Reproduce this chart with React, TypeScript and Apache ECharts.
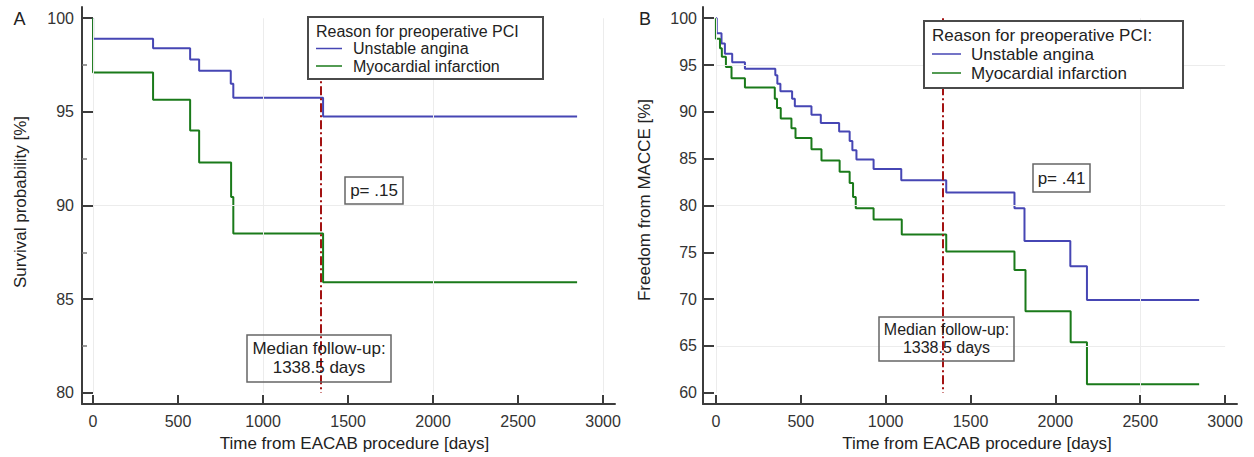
import React, { useEffect, useRef } from "react";
import * as echarts from "echarts";

// ---------- data ----------
const xTickValues = [0, 500, 1000, 1500, 2000, 2500, 3000];
const aYTicks = [80, 85, 90, 95, 100];
const aYMinorTicks = [82.5, 87.5, 92.5, 97.5];
const bYTicks = [60, 65, 70, 75, 80, 85, 90, 95, 100];

const medianFollowUp = 1338.5;

// Panel A: survival
const aUnstableTime = [0, 0, 353, 571, 624, 810, 825, 1353, 2847];
const aUnstableVal = [100, 98.9, 98.4, 97.8, 97.2, 96.5, 95.75, 94.75, 94.75];
const aInfarctTime = [0, 0, 353, 571, 624, 812, 825, 1353, 2847];
const aInfarctVal = [100, 97.1, 95.65, 94.0, 92.3, 90.45, 88.5, 85.9, 85.9];

// Panel B: freedom from MACCE
const bUnstableTime = [0, 5, 33, 53, 96, 171, 350, 362, 380, 449, 465, 563, 618, 726, 788, 804, 828, 929, 1092, 1357, 1759, 1818, 2088, 2186, 2847];
const bUnstableVal = [100, 98.4, 97.3, 96.2, 95.3, 94.6, 93.9, 93.0, 92.2, 91.4, 90.6, 89.7, 88.8, 87.9, 86.9, 85.9, 84.9, 83.9, 82.7, 81.4, 79.7, 76.2, 73.5, 69.9, 69.9];
const bInfarctTime = [0, 0, 24, 35, 59, 92, 171, 347, 360, 382, 445, 469, 563, 622, 729, 788, 808, 824, 929, 1095, 1357, 1759, 1824, 2090, 2186, 2847];
const bInfarctVal = [100, 97.8, 96.8, 95.9, 94.8, 93.6, 92.6, 91.4, 90.4, 89.3, 88.25, 87.2, 86.0, 84.8, 83.6, 82.4, 80.9, 79.7, 78.5, 76.9, 75.1, 73.1, 68.7, 65.4, 60.9, 60.9];

const aGridX = [0, 1000, 2000, 3000];
const aGridY = [90];
const bGridX = [0, 2500];
const bGridY = [65, 80, 95];

const seriesNames = ["Unstable angina", "Myocardial infarction"];
const legendTitleA = "Reason for preoperative PCI";
const legendTitleB = "Reason for preoperative PCI:";
const pValueA = "p= .15";
const pValueB = "p= .41";
const medianLabel = "Median follow-up:\n1338.5 days";

// ---------- styles ----------
const FONT = '"Liberation Sans", Arial, sans-serif';
const BLUE = "#4646b4";
const GREEN = "#1a7a1a";
const AXIS = "#3c3c3c";
const RED = "#a31212";

const pairs = (t: number[], v: number[]) => t.map((x, i) => [x, v[i]]);
const fmt = (v: number) => String(v);
const labelStyle = { fontSize: 16, color: "#333", fontFamily: FONT, formatter: fmt };
const axisLineStyle = { color: AXIS, width: 2 };

// axis that only carries the tick labels
function labelAxis(gridIndex: number, min: number, max: number, values: number[], margin: number, position: string) {
  return {
    type: "value",
    gridIndex,
    position,
    min,
    max,
    axisLine: { show: false, onZero: false },
    axisTick: { show: false },
    axisLabel: { show: true, customValues: values, margin, ...labelStyle },
    splitLine: { show: false },
  };
}

// axis that only carries the line and ticks
function lineAxis(gridIndex: number, min: number, max: number, ticks: number[], len: number, position: string, showLine = true, tickStyle: any = axisLineStyle) {
  return {
    type: "value",
    gridIndex,
    position,
    min,
    max,
    axisLine: { show: showLine, onZero: false, lineStyle: axisLineStyle },
    axisTick: { show: true, inside: true, length: len, customValues: ticks, lineStyle: tickStyle },
    axisLabel: { show: false },
    splitLine: { show: false },
  };
}

export default function App() {
  const ref = useRef<HTMLDivElement>(null);

  useEffect(() => {
    if (!ref.current) return;
    const chart = echarts.init(ref.current, undefined, { renderer: "svg" });

    const gridLines = (xs: number[], ys: number[], yMin: number, yMax: number) => {
      const ls = { color: "#ececec", width: 1, type: "solid" };
      const out: any[] = [];
      xs.forEach((x) => out.push([{ coord: [x, yMin], lineStyle: ls }, { coord: [x, yMax] }]));
      ys.forEach((y) => out.push([{ coord: [0, y], lineStyle: ls }, { coord: [3000, y] }]));
      return out;
    };

    const kmSeries = (name: string, data: number[][], color: string, xi: number, yi: number) => ({
      name,
      type: "line",
      step: "end",
      xAxisIndex: xi,
      yAxisIndex: yi,
      data,
      showSymbol: false,
      symbol: "none",
      lineStyle: { color, width: 2 },
      itemStyle: { color },
      z: 3,
    });

    const helperSeries = (xi: number, yi: number, gx: number[], gy: number[], yMin: number, yMax: number) => ({
      type: "line",
      xAxisIndex: xi,
      yAxisIndex: yi,
      data: [[0, 100]],
      showSymbol: false,
      symbol: "none",
      lineStyle: { opacity: 0 },
      silent: true,
      z: 2,
      markLine: {
        silent: true,
        symbol: ["none", "none"],
        label: { show: false },
        animation: false,
        data: [
          ...gridLines(gx, gy, yMin, yMax),
          [
            { coord: [medianFollowUp, yMax], lineStyle: { color: RED, width: 2, type: [9, 3, 2, 3] } },
            { coord: [medianFollowUp, yMin] },
          ],
        ],
      },
    });

    const txt = (x: number, y: number, text: string, size: number, align = "left", extra: any = {}) => ({
      type: "text",
      x,
      y,
      z: 110,
      rotation: extra.rotation || 0,
      style: {
        text,
        x: 0,
        y: 0,
        fill: "#222",
        font: `${size}px ${FONT}`,
        align,
        verticalAlign: "middle",
        textAlign: align,
        textVerticalAlign: "middle",
        lineHeight: extra.lineHeight || size + 2,
      },
    });

    const box = (x: number, y: number, w: number, h: number, stroke: string, lw: number, fill: string) => ({
      type: "rect",
      z: 100,
      shape: { x, y, width: w, height: h },
      style: { fill, stroke, lineWidth: lw },
    });

    const hline = (x1: number, x2: number, y: number, color: string) => ({
      type: "line",
      z: 110,
      shape: { x1, y1: y, x2, y2: y },
      style: { stroke: color, lineWidth: 1.5 },
    });

    const option: any = {
      animation: false,
      backgroundColor: "#ffffff",
      textStyle: { fontFamily: FONT },
      grid: [
        { left: 82, top: 7, width: 533, height: 397 },
        { left: 703, top: 7, width: 534, height: 397 },
      ],
      xAxis: [
        labelAxis(0, -65, 3070, xTickValues, 9, "bottom"), // 0: A labels
        lineAxis(0, -65, 3070, xTickValues, 9, "bottom"), // 1: A line + ticks
        labelAxis(1, -76, 3070, xTickValues, 9, "bottom"), // 2: B labels
        lineAxis(1, -76, 3070, xTickValues, 9, "bottom"), // 3: B line + ticks
      ],
      yAxis: [
        labelAxis(0, 79.4, 100.6, aYTicks, 8, "left"), // 0: A labels
        lineAxis(0, 79.4, 100.6, aYTicks, 11, "left"), // 1: A line + ticks
        lineAxis(0, 79.4, 100.6, aYMinorTicks, 5, "left", false, { color: "#777", width: 1.5 }), // 2: A minor ticks
        labelAxis(1, 58.8, 101.2, bYTicks, 6, "left"), // 3: B labels
        lineAxis(1, 58.8, 101.2, bYTicks, 11, "left"), // 4: B line + ticks
      ],
      series: [
        helperSeries(0, 0, aGridX, aGridY, 80, 100),
        kmSeries(seriesNames[0], pairs(aUnstableTime, aUnstableVal), BLUE, 0, 0),
        kmSeries(seriesNames[1], pairs(aInfarctTime, aInfarctVal), GREEN, 0, 0),
        helperSeries(2, 3, bGridX, bGridY, 60, 100),
        kmSeries(seriesNames[0], pairs(bUnstableTime, bUnstableVal), BLUE, 2, 3),
        kmSeries(seriesNames[1], pairs(bInfarctTime, bInfarctVal), GREEN, 2, 3),
      ],
      graphic: [
        txt(19.5, 19, "A", 18, "center"),
        txt(645, 19, "B", 18, "center"),
        txt(20.5, 202, "Survival probability [%]", 17, "center", { rotation: Math.PI / 2 }),
        txt(644, 200, "Freedom from MACCE [%]", 17, "center", { rotation: Math.PI / 2 }),
        txt(354.5, 443, "Time from EACAB procedure [days]", 17, "center"),
        txt(977, 443, "Time from EACAB procedure [days]", 17, "center"),
        box(308, 17, 235, 62, "#4a4a4a", 2, "#ffffff"),
        txt(316, 31, legendTitleA, 16),
        hline(316, 342, 48.5, BLUE),
        txt(353, 48.5, seriesNames[0], 16),
        hline(316, 342, 66, GREEN),
        txt(353, 66, seriesNames[1], 16),
        box(924, 21, 259, 67, "#4a4a4a", 2, "#ffffff"),
        txt(932, 35, legendTitleB, 17),
        hline(932, 961, 54, BLUE),
        txt(971, 54, seriesNames[0], 17),
        hline(932, 961, 73, GREEN),
        txt(971, 73, seriesNames[1], 17),
        box(345, 177, 58, 27, "#666", 1.5, "#ffffff"),
        txt(374, 190.5, pValueA, 17, "center"),
        box(1033, 164, 57, 28, "#666", 1.5, "#ffffff"),
        txt(1061.5, 178, pValueB, 17, "center"),
        box(247, 335, 144, 47, "#666", 1.5, "rgba(255,255,255,0)"),
        txt(319, 358, medianLabel, 17, "center", { lineHeight: 19 }),
        box(879, 317, 135, 44, "#666", 1.5, "rgba(255,255,255,0)"),
        txt(946.5, 338.5, medianLabel, 16, "center", { lineHeight: 18 }),
      ],
    };

    chart.setOption(option);
    return () => chart.dispose();
  }, []);

  return (
    <div
      ref={ref}
      style={{ position: "fixed", left: 0, top: 0, width: 1254, height: 457, background: "#fff" }}
    />
  );
}
